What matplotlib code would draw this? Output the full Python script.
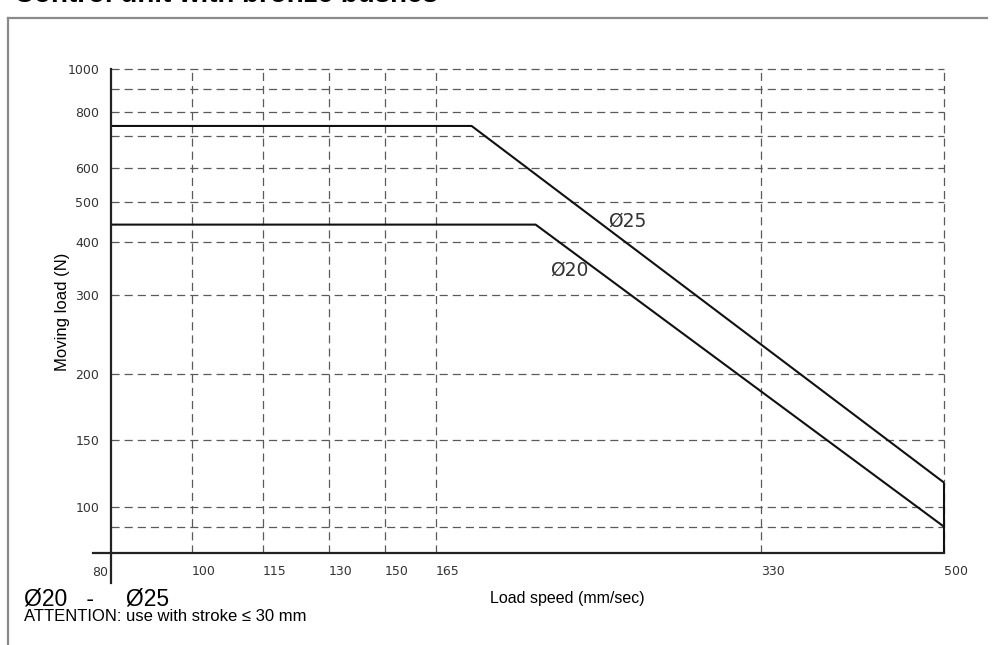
import numpy as np
import matplotlib
matplotlib.use("Agg")
import matplotlib.pyplot as plt

# 축 눈금 (카탈로그 차트의 비균등 눈금)
x_ticks = [80, 100, 115, 130, 150, 165, 330, 500]
y_ticks = [100, 150, 200, 300, 400, 500, 600, 800, 1000]
y_grid = [90, 100, 150, 200, 300, 400, 500, 600, 700, 800, 900, 1000]

# 곡선 데이터 (속도 mm/sec, 하중 N)
speed_d25 = [80, 178, 500]
load_d25 = [740, 740, 116]
speed_d20 = [80, 204, 500]
load_d20 = [440, 440, 90]

# 스케일 앵커: 값 -> 도면 위치 (원본 차트 격자 간격)
x_anchor_val = [80, 100, 115, 130, 150, 165, 330, 500]
x_anchor_pos = [0, 81, 152.5, 218.5, 274.5, 325.5, 651, 833.5]
y_anchor_val = [80, 90, 100, 150, 200, 300, 400, 500, 600, 700, 800, 900, 1000]
y_anchor_pos = [0, 26.3, 46, 112.7, 178.7, 258, 311.3, 351.3, 384.7, 417.3, 440.7, 463.7, 483.7]


def make_scale(vals, pos):
    lv = np.log10(vals)
    p = np.array(pos, dtype=float)

    def fwd(v):
        v = np.clip(np.asarray(v, dtype=float), 1e-9, None)
        return np.interp(np.log10(v), lv, p, left=-1e3, right=1e4)

    def inv(q):
        return 10 ** np.interp(q, p, lv)
    return fwd, inv


W, H = 993, 645
fig = plt.figure(figsize=(W / 100, H / 100), dpi=100)
fig.patch.set_facecolor("white")

ax = fig.add_axes([110.5 / W, 1 - 553 / H, 833.5 / W, 483.7 / H])
ax.set_xscale("function", functions=make_scale(x_anchor_val, x_anchor_pos))
ax.set_yscale("function", functions=make_scale(y_anchor_val, y_anchor_pos))
ax.set_xlim(80, 500)
ax.set_ylim(80, 1000)

dash = (0, (6.5, 4))
grid_col = "#5a5a5a"
for v in x_ticks[1:]:
    ax.axvline(v, color=grid_col, lw=0.9, ls=dash, zorder=1, clip_on=False)
for v in y_grid:
    ax.axhline(v, color=grid_col, lw=0.9, ls=dash, zorder=1, clip_on=False)

ax.plot(speed_d25, load_d25, color="#111111", lw=1.5, zorder=3)
ax.plot(speed_d20, load_d20, color="#111111", lw=1.5, zorder=3)
ax.vlines(speed_d25[-1], 80, load_d25[-1], color="#111111", lw=1.5, zorder=3,
          clip_on=False)

ax.text(0.62, 0.687, "Ø25", transform=ax.transAxes, fontsize=13.5,
        color="#333333", ha="center", va="center")
ax.text(0.55, 0.584, "Ø20", transform=ax.transAxes, fontsize=13.5,
        color="#333333", ha="center", va="center")

for s in ax.spines.values():
    s.set_visible(False)
# 축선: 왼쪽은 아래로, 아래쪽은 왼쪽으로 조금 더 길게
ax.plot([0, 0], [1, -30 / 483.7], transform=ax.transAxes, color="#222222",
        lw=1.6, clip_on=False, zorder=4)
ax.plot([-17.5 / 833.5, 1], [0, 0], transform=ax.transAxes, color="#222222",
        lw=1.6, clip_on=False, zorder=4)

ax.set_xticks(x_ticks)
ax.set_xticklabels([str(v) for v in x_ticks], fontsize=9, color="#333333")
ax.tick_params(axis="x", which="both", length=0, pad=8.5)
for lab in ax.get_xticklabels():
    lab.set_ha("left")

ax.set_yticks(y_ticks)
ax.set_yticklabels([str(v) for v in y_ticks], fontsize=9, color="#333333")
ax.tick_params(axis="y", which="both", length=0, pad=8)
ax.yaxis.set_minor_locator(matplotlib.ticker.NullLocator())
ax.xaxis.set_minor_locator(matplotlib.ticker.NullLocator())

# 80 라벨은 축선 왼쪽에 붙임
ax.get_xticklabels()[0].set_visible(False)
ax.text(-2 / 833.5, -19 / 483.7, "80", transform=ax.transAxes, fontsize=9,
        color="#333333", ha="right", va="center")

fig.text(62 / W, 1 - 312 / H, "Moving load (N)", rotation=90,
         family="Liberation Sans", fontsize=12, ha="center", va="center")
fig.text(567 / W, 1 - 598 / H, "Load speed (mm/sec)",
         family="Liberation Sans", fontsize=11.5, ha="center", va="center")

fig.text(24 / W, 1 - 606 / H, "Ø20   -     Ø25", family="Liberation Sans",
         fontsize=16.5, ha="left", va="baseline")
fig.text(24 / W, 1 - 621 / H, "ATTENTION: use with stroke ≤ 30 mm",
         family="Liberation Sans", fontsize=12, ha="left", va="baseline")

fig.text(14 / W, 1 - 2 / H, "Control unit with bronze bushes",
         family="Liberation Sans", fontweight="bold", fontsize=20,
         ha="left", va="baseline")

# 바깥 테두리
fig.add_artist(plt.Line2D([8 / W, 8 / W], [0, 1 - 17.5 / H], color="#8a8a8a", lw=1.6))
fig.add_artist(plt.Line2D([8 / W, 987 / W], [1 - 17.5 / H, 1 - 17.5 / H], color="#8a8a8a", lw=1.6))

fig.savefig("out.png", dpi=100)
